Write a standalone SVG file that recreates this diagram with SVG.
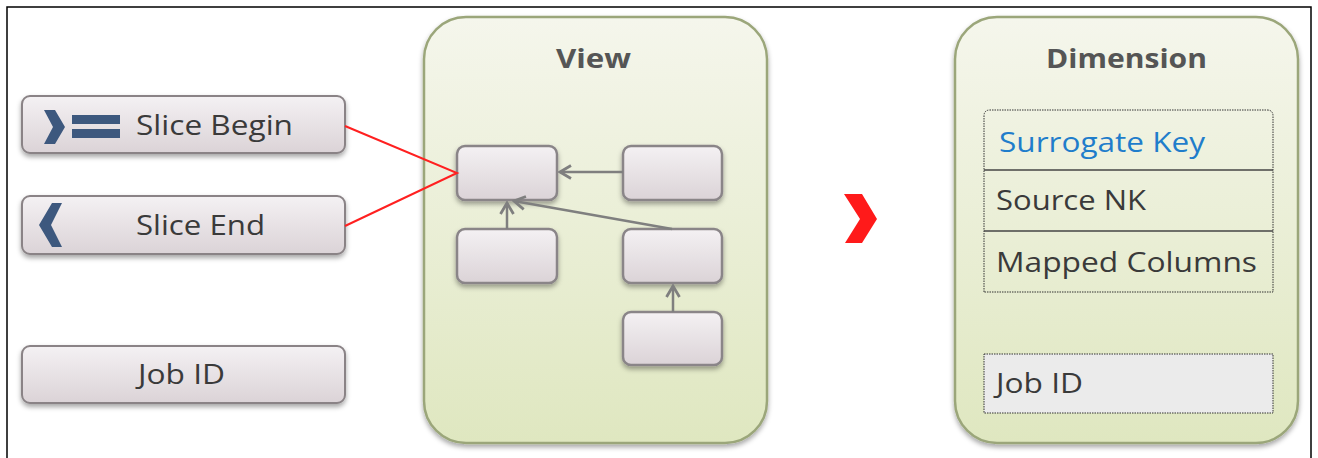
<svg xmlns="http://www.w3.org/2000/svg" width="1318" height="458" viewBox="0 0 1318 458">
<defs>
<linearGradient id="gBtn" x1="0" y1="0" x2="0" y2="1">
<stop offset="0" stop-color="#f4f1f3"/><stop offset="1" stop-color="#dbd3d7"/>
</linearGradient>
<linearGradient id="gCont" x1="0" y1="0" x2="0" y2="1">
<stop offset="0" stop-color="#f5f6ec"/><stop offset="1" stop-color="#dfe7c0"/>
</linearGradient>
<filter id="sh" x="-10%" y="-10%" width="120%" height="140%">
<feDropShadow dx="0" dy="3" stdDeviation="2.5" flood-color="#000" flood-opacity="0.35"/>
</filter>
<marker id="ah" viewBox="0 0 16 16" refX="14" refY="8" markerWidth="16" markerHeight="16" markerUnits="userSpaceOnUse" orient="auto">
<path d="M3,1.5 L14,8 L3,14.5" fill="none" stroke="#7f7f7f" stroke-width="2.8" stroke-linejoin="miter"/>
</marker>
<style>
.btn{fill:url(#gBtn);stroke:#8a8386;stroke-width:2;filter:url(#sh)}
.cont{fill:url(#gCont);stroke:#9ba67a;stroke-width:2.5;filter:url(#sh)}
.ib{fill:url(#gBtn);stroke:#8a8588;stroke-width:2.5;filter:url(#sh)}
.t{font-family:"Open Sans","DejaVu Sans",sans-serif;font-size:28px;fill:#3a3a3a}
.tt{font-family:"Open Sans","DejaVu Sans",sans-serif;font-size:27px;font-weight:bold;fill:#555}
.arr{stroke:#7f7f7f;stroke-width:2.5;fill:none;marker-end:url(#ah)}
.red{stroke:#ff2020;stroke-width:2;fill:none}
.ico{fill:#3d587e}
.dot{fill:none;stroke:#333;stroke-width:1;stroke-dasharray:1.5 1}
.sep{stroke:#444;stroke-width:1.5}
</style>
</defs>
<rect width="1318" height="458" fill="#fff"/>
<path d="M7,458 V7 H1311 V458" fill="none" stroke="#000" stroke-width="1.5"/>

<g id="slice-begin">
<rect class="btn" x="22" y="96" width="323" height="57" rx="8"/>
<path class="ico" d="M44,110 L55,110 L65,127 L55,144 L44,144 L53,127 Z"/>
<rect class="ico" x="72" y="115" width="48" height="9"/>
<rect class="ico" x="72" y="129" width="48" height="9"/>
<text class="t" x="136" y="135" textLength="157" lengthAdjust="spacingAndGlyphs">Slice Begin</text>
</g>
<g id="slice-end">
<rect class="btn" x="22" y="196" width="323" height="58" rx="8"/>
<path class="ico" d="M52,203 L62,203 L51,225 L62,247 L52,247 L39,225 Z"/>
<text class="t" x="136" y="235" textLength="129" lengthAdjust="spacingAndGlyphs">Slice End</text>
</g>
<g id="job-id-left">
<rect class="btn" x="22" y="346" width="323" height="57" rx="8"/>
<text class="t" x="138" y="384" textLength="87" lengthAdjust="spacingAndGlyphs">Job ID</text>
</g>

<g id="view">
<rect class="cont" x="424" y="17" width="343" height="426" rx="42"/>
<text class="tt" x="556" y="68" textLength="75" lengthAdjust="spacingAndGlyphs">View</text>
<rect class="ib" x="457" y="146" width="100" height="54" rx="8"/>
<rect class="ib" x="623" y="146" width="99" height="54" rx="8"/>
<rect class="ib" x="457" y="229" width="100" height="54" rx="8"/>
<rect class="ib" x="623" y="229" width="99" height="54" rx="8"/>
<rect class="ib" x="623" y="312" width="99" height="53" rx="8"/>
</g>

<g id="connectors">
<path class="red" d="M345,126 L457,173 L345,226"/>
<line class="arr" x1="623" y1="172" x2="560" y2="172"/>
<line class="arr" x1="507" y1="229" x2="507" y2="203"/>
<line class="arr" x1="672" y1="229" x2="514" y2="201"/>
<line class="arr" x1="673" y1="312" x2="673" y2="286"/>
<path d="M844,194 L862,194 L877,219 L862,243 L845,243 L860,219 Z" fill="#ff1a1a"/>
</g>

<g id="dimension">
<rect class="cont" x="955" y="17" width="343" height="426" rx="42"/>
<text class="tt" x="1046" y="68" textLength="161" lengthAdjust="spacingAndGlyphs">Dimension</text>
<path class="dot" d="M984,292 V116 Q984,110 990,110 H1267 Q1273,110 1273,116 V292 Z"/>
<line class="sep" x1="984" y1="170" x2="1273" y2="170"/>
<line class="sep" x1="984" y1="231" x2="1273" y2="231"/>
<text class="t" x="999" y="152" textLength="206" lengthAdjust="spacingAndGlyphs" style="fill:#1f7dcb">Surrogate Key</text>
<text class="t" x="996" y="210" textLength="150" lengthAdjust="spacingAndGlyphs">Source NK</text>
<text class="t" x="996" y="272" textLength="261" lengthAdjust="spacingAndGlyphs">Mapped Columns</text>
<rect x="984" y="354" width="289" height="59" fill="#ebebeb"/>
<rect class="dot" x="984" y="354" width="289" height="59"/>
<text class="t" x="996" y="393" textLength="87" lengthAdjust="spacingAndGlyphs">Job ID</text>
</g>
</svg>
